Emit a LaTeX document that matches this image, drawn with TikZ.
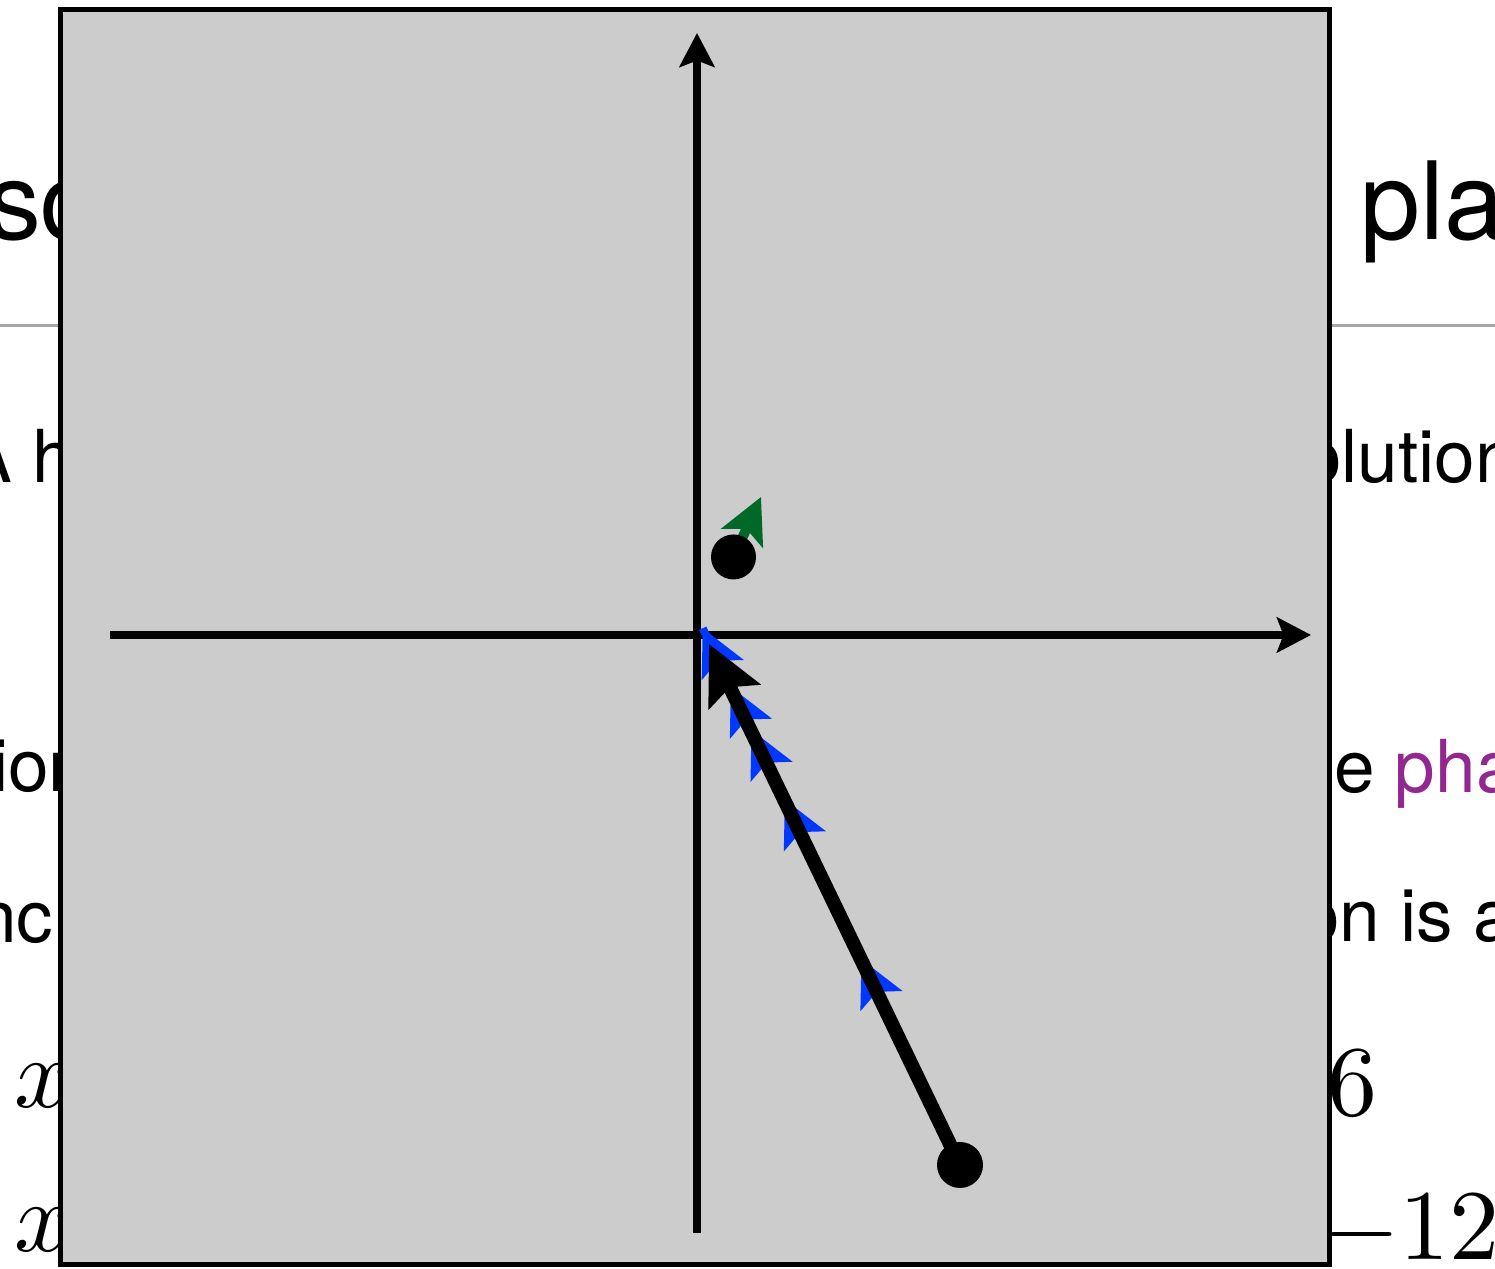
\documentclass[tikz,border=0pt]{standalone}
\usepackage[no-math]{fontspec}
\setmainfont{TeX Gyre Heros}
\usetikzlibrary{arrows.meta}
\definecolor{boxgray}{RGB}{204,204,204}
\definecolor{rulegray}{RGB}{166,166,166}
\definecolor{trajblue}{RGB}{0,56,255}
\definecolor{trajgreen}{RGB}{0,105,40}
\definecolor{linkpurple}{RGB}{146,40,143}
\begin{document}
\begin{tikzpicture}[x=0.1pt,y=-0.1pt,
  bgtext/.style={anchor=base west, inner sep=0pt, outer sep=0pt},
  titletext/.style={bgtext, font=\fontsize{10.8}{13}\selectfont},
  bodytext/.style={bgtext, font=\fontsize{7.3}{9}\selectfont},
  mathtext/.style={bgtext},
  axisline/.style={line width=0.75pt, -{Stealth[length=3.4pt,width=3.5pt,inset=0.65pt]}},
  smallarrow/.style={line width=0.5pt, -{Stealth[length=4.6pt,width=4.6pt,inset=1pt]}},
  dotmark/.style={fill=black}]
\useasboundingbox (0,0) rectangle (1495,1269);
\clip (0,0) rectangle (1495,1269);
% background slide fragments
\node[titletext] (t1) at (-13,240) {sc};
\node[titletext] (t2) at (1360,240) {pla};
\draw[rulegray, line width=0.3pt] (0,326) -- (1495,326);
\node[bodytext] (b1) at (-36,483) {A h};
\node[bodytext] (b2) at (1301,483) {olution};
\node[bodytext] (b3) at (-8,792) {ion};
\node[bodytext] (b4) at (1334,793) {e \textcolor{linkpurple}{pha}};
\node[bodytext] (b5) at (-24,943) {nc};
\node[bodytext] (b6) at (1299,942) {on is a};
\node[mathtext] (m1) at (14,1108) {$x$};
\node[mathtext] (m2) at (14,1252) {$x$};
\node[mathtext] (m3) at (1327,1116) {$6$};
\node[mathtext] (m4) at (1322,1260) {$-12$};
% plot panel
\draw[fill=boxgray, line width=0.5pt] (60.5,9.5) rectangle (1329.5,1264.5);
\coordinate (xl) at (110,635);
\coordinate (xr) at (1311,635);
\coordinate (yb) at (697,1233);
\coordinate (yt) at (697,33);
\draw[axisline] (xl) -- (xr);
\draw[axisline] (yb) -- (yt);
% trajectories
\coordinate (p0) at (960,1165);
\coordinate (pb) at (702.7,628.3);
\coordinate (pk) at (709,644);
\coordinate (q0) at (733.5,557);
\coordinate (qg) at (761,497);
\path (p0) -- (pb)
  coordinate[pos=0.3732] (a5s) coordinate[pos=0.3832] (a5)
  coordinate[pos=0.6708] (a4s) coordinate[pos=0.6808] (a4)
  coordinate[pos=0.8003] (a3s) coordinate[pos=0.8103] (a3)
  coordinate[pos=0.8806] (a2s) coordinate[pos=0.8906] (a2);
\draw[trajblue, line width=0.8pt] (p0) -- (pb);
\draw[trajblue, smallarrow] (a5s) -- (a5);
\draw[trajblue, smallarrow] (a4s) -- (a4);
\draw[trajblue, smallarrow] (a3s) -- (a3);
\draw[trajblue, smallarrow] (a2s) -- (a2);
\draw[trajblue, smallarrow] (a2) -- (pb);
\draw[trajgreen, line width=1pt, -{Stealth[length=4.5pt,width=4.5pt,inset=1pt]}] (q0) -- (qg);
\draw[line width=1.4pt, -{Stealth[length=5.8pt,width=5.6pt,inset=1pt]}] (p0) -- (pk);
\fill[dotmark] (p0) circle[radius=2.3pt];
\fill[dotmark] (q0) circle[radius=2.25pt];
\end{tikzpicture}
\end{document}
